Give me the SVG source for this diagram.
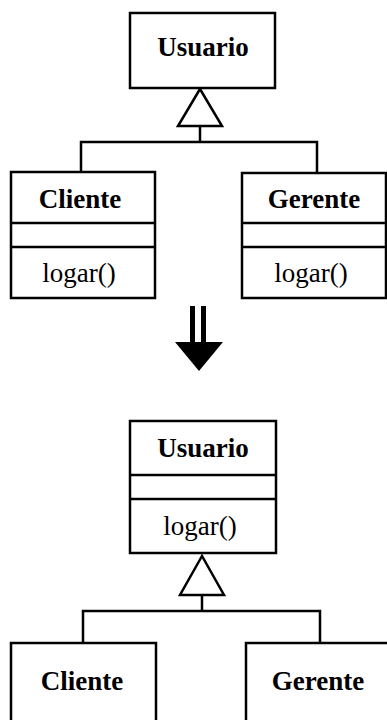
<svg xmlns="http://www.w3.org/2000/svg" width="387" height="720" viewBox="0 0 387 720">
<style>
.box{fill:#fff;stroke:#000;stroke-width:2.5}
.ln{fill:none;stroke:#000;stroke-width:2.5}
.tri{fill:#fff;stroke:#000;stroke-width:2.5;stroke-linejoin:miter}
.nm{font-family:"Liberation Serif",serif;font-weight:bold;font-size:27px;text-anchor:middle;fill:#000}
.op{font-family:"Liberation Serif",serif;font-size:27px;text-anchor:middle;fill:#000}
</style>
<rect width="387" height="720" fill="#fff"/>
<g id="connectors">
<polygon class="tri" points="200,89 178,126 222,126"/>
<polyline class="ln" points="200,126 200,142"/>
<polyline class="ln" points="81,172 81,142 317,142 317,172"/>
<polygon class="tri" points="202,556 180,595 224,595"/>
<polyline class="ln" points="202,595 202,611"/>
<polyline class="ln" points="83,643 83,611 320,611 320,643"/>
</g>
<g id="transform-arrow">
<rect x="190" y="306" width="5" height="37" fill="#000"/>
<rect x="201" y="306" width="5" height="37" fill="#000"/>
<polygon points="175,342 223,342 199,371" fill="#000"/>
</g>
<g id="usuario-top">
<rect class="box" x="130" y="13" width="145" height="75"/>
<text class="nm" x="203" y="56">Usuario</text>
</g>
<g id="cliente-top">
<rect class="box" x="11" y="172" width="144" height="126"/>
<line class="ln" x1="11" y1="223" x2="155" y2="223"/>
<line class="ln" x1="11" y1="247" x2="155" y2="247"/>
<text class="nm" x="80" y="208">Cliente</text>
<text class="op" x="79" y="282">logar()</text>
</g>
<g id="gerente-top">
<rect class="box" x="242" y="173" width="144" height="125"/>
<line class="ln" x1="242" y1="223" x2="386" y2="223"/>
<line class="ln" x1="242" y1="247" x2="386" y2="247"/>
<text class="nm" x="314" y="208">Gerente</text>
<text class="op" x="311" y="282">logar()</text>
</g>
<g id="usuario-bottom">
<rect class="box" x="130" y="421" width="146" height="132"/>
<line class="ln" x1="130" y1="475" x2="276" y2="475"/>
<line class="ln" x1="130" y1="499" x2="276" y2="499"/>
<text class="nm" x="203" y="457">Usuario</text>
<text class="op" x="200" y="535">logar()</text>
</g>
<g id="cliente-bottom">
<rect class="box" x="11" y="643" width="145" height="90"/>
<text class="nm" x="82" y="690">Cliente</text>
</g>
<g id="gerente-bottom">
<rect class="box" x="246" y="643" width="145" height="90"/>
<text class="nm" x="318" y="690">Gerente</text>
</g>
</svg>
